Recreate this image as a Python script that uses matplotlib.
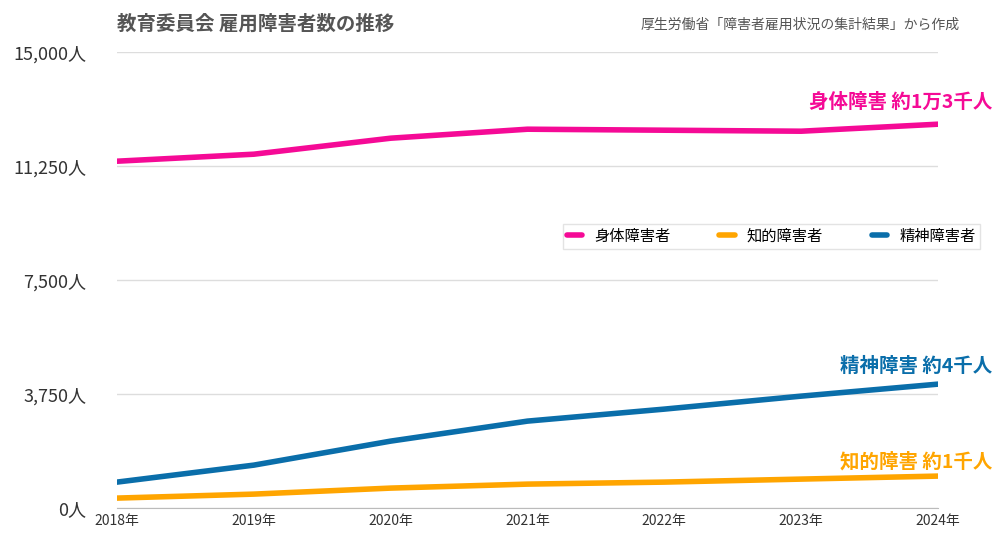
import matplotlib.pyplot as plt

plt.rcParams['font.family'] = ['Noto Sans CJK JP', 'DejaVu Sans']

years = ['2018年', '2019年', '2020年', '2021年', '2022年', '2023年', '2024年']
physical = [11414, 11645, 12171, 12467, 12434, 12401, 12632]
intellectual = [329, 460, 658, 789, 855, 954, 1053]
mental = [855, 1414, 2204, 2862, 3257, 3684, 4079]
yticks = [0, 3750, 7500, 11250, 15000]

PINK = '#f50a96'
ORANGE = '#ffa500'
BLUE = '#0a6eaa'

fig = plt.figure(figsize=(10, 5.44), dpi=100)
ax = fig.add_axes([0.117, 0.066, 0.821, 0.838])
x = range(len(years))
ax.plot(x, physical, color=PINK, lw=4, label='身体障害者', solid_joinstyle='round', solid_capstyle='round')
ax.plot(x, intellectual, color=ORANGE, lw=4, label='知的障害者', solid_joinstyle='round', solid_capstyle='round')
ax.plot(x, mental, color=BLUE, lw=4, label='精神障害者', solid_joinstyle='round', solid_capstyle='round')

ax.set_xlim(0, len(years) - 1)
ax.set_ylim(0, 15000)
ax.set_xticks(list(x))
ax.set_xticklabels(years, fontsize=10, color='#333333')
ax.set_yticks(yticks)
ax.set_yticklabels([f'{v:,}人' for v in yticks], fontsize=13, color='#333333')
ax.tick_params(length=0, pad=4)
ax.tick_params(axis='y', pad=22)
ax.grid(axis='y', color='#dddddd', lw=1)
for s in ['top', 'right', 'left']:
    ax.spines[s].set_visible(False)
ax.spines['bottom'].set_color('#bbbbbb')

ax.text(6.4, 13050, '身体障害 約1万3千人', color=PINK, fontsize=14, fontweight='bold', ha='right', va='bottom')
ax.text(6.4, 4350, '精神障害 約4千人', color=BLUE, fontsize=14, fontweight='bold', ha='right', va='bottom')
ax.text(6.4, 1200, '知的障害 約1千人', color=ORANGE, fontsize=14, fontweight='bold', ha='right', va='bottom')

ax.legend(loc='upper right', bbox_to_anchor=(1.06, 0.64), ncol=3, fontsize=11, frameon=True,
          fancybox=False, edgecolor='#dddddd', handlelength=1.0, columnspacing=3.2,
          borderpad=0.25)

fig.text(0.117, 0.955, '教育委員会 雇用障害者数の推移', fontsize=14, fontweight='bold', color='#555555', va='center')
fig.text(0.96, 0.955, '厚生労働省「障害者雇用状況の集計結果」から作成', fontsize=10, color='#555555', va='center', ha='right')

fig.savefig('out.png')
